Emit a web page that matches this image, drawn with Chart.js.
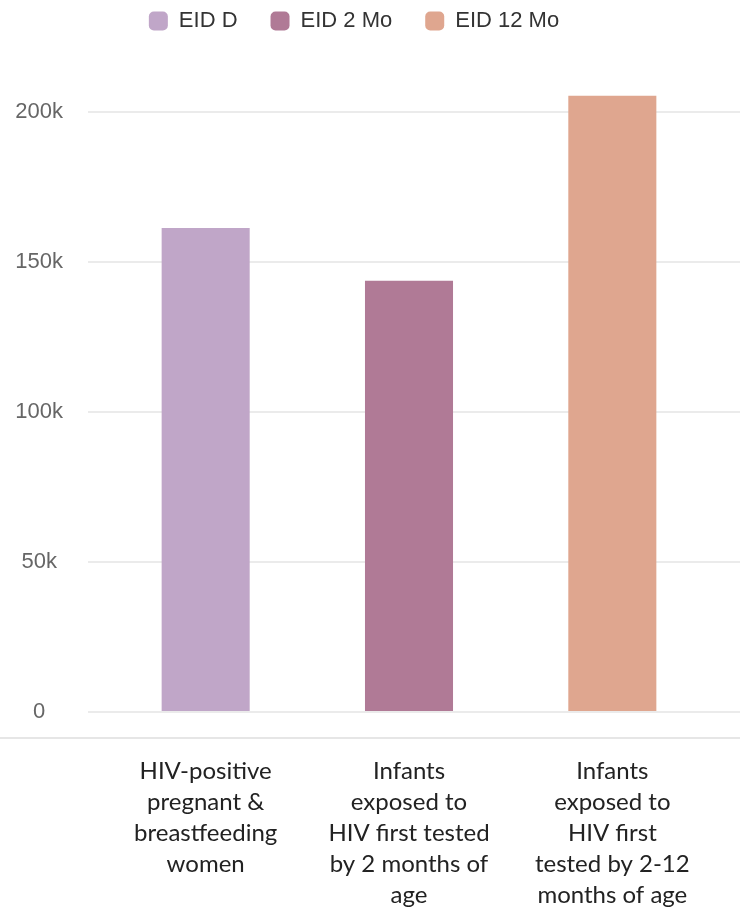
<!DOCTYPE html>
<html lang="en">
<head>
<meta charset="UTF-8">
<title>EID chart</title>
<script src="https://cdn.jsdelivr.net/npm/chart.js"></script>
<style>
  html, body { margin: 0; padding: 0; background: #fff; }
  #wrap { width: 740px; height: 908px; }
</style>
</head>
<body>
<div id="wrap"><canvas id="eidChart"></canvas></div>
<script>
const categories = [
  ['HIV-positive', 'pregnant &', 'breastfeeding', 'women'],
  ['Infants', 'exposed to', 'HIV first tested', 'by 2 months of', 'age'],
  ['Infants', 'exposed to', 'HIV first', 'tested by 2-12', 'months of age']
];
const seriesNames = ['EID D', 'EID 2 Mo', 'EID 12 Mo'];
const seriesValues = [161300, 143700, 205400];
const seriesColors = ['#c0a6c8', '#b07a96', '#dfa68f'];
const yTicks = [0, 50000, 100000, 150000, 200000];
const yMax = 223300;

const gridColor = '#ebebeb';

// each series has one bar, in its own category
const datasets = seriesNames.map((name, i) => ({
  label: name,
  data: seriesValues.map((v, j) => (j === i ? v : null)),
  backgroundColor: seriesColors[i],
  grouped: false,
  categoryPercentage: 1,
  barPercentage: 0.433
}));

// light rule under the plot, full width + nudge legend a bit left
const extras = {
  id: 'extras',
  afterLayout(chart) {
    chart.legend.left -= 16;
    chart.legend.right -= 16;
  },
  afterDraw(chart) {
    const ctx = chart.ctx;
    const y = chart.scales.x.top + 26;
    ctx.save();
    ctx.strokeStyle = '#e6e6e6';
    ctx.lineWidth = 2;
    ctx.beginPath();
    ctx.moveTo(0, y);
    ctx.lineTo(chart.width, y);
    ctx.stroke();
    ctx.restore();
  }
};

const setTicks = scale => { scale.ticks = yTicks.map(v => ({ value: v })); };

new Chart(document.getElementById('eidChart'), {
  type: 'bar',
  data: { labels: categories, datasets: datasets },
  options: {
    responsive: true,
    maintainAspectRatio: false,
    animation: false,
    layout: { padding: { top: -23, left: 0, right: 0, bottom: 0 } },
    plugins: {
      tooltip: { enabled: false },
      legend: {
        position: 'top',
        labels: {
          font: { family: 'Liberation Sans', size: 22 },
          color: '#333',
          boxWidth: 19,
          boxHeight: 19,
          useBorderRadius: true,
          borderRadius: 5,
          padding: 33
        }
      }
    },
    scales: {
      x: {
        afterFit: scale => { scale.height = 196; },
        grid: { display: false, drawTicks: false },
        border: { display: false },
        ticks: {
          font: { family: 'Lato', size: 24, lineHeight: 1.29 },
          color: '#222',
          padding: 44,
          maxRotation: 0,
          autoSkip: false
        }
      },
      y: {
        min: 0,
        max: yMax,
        afterBuildTicks: setTicks,
        afterFit: scale => { scale.width = 104; },
        border: { display: false },
        grid: { color: gridColor, lineWidth: 2, tickLength: 16 },
        ticks: {
          font: { family: 'Liberation Sans', size: 22 },
          color: '#666',
          crossAlign: 'center',
          padding: 25,
          callback: v => (v === 0 ? '0' : v / 1000 + 'k')
        }
      },
      y2: {
        position: 'right',
        min: 0,
        max: yMax,
        afterBuildTicks: setTicks,
        border: { display: false },
        grid: { color: gridColor, lineWidth: 2, tickLength: 26, drawOnChartArea: false },
        ticks: { display: false }
      }
    }
  },
  plugins: [extras]
});
</script>
</body>
</html>
